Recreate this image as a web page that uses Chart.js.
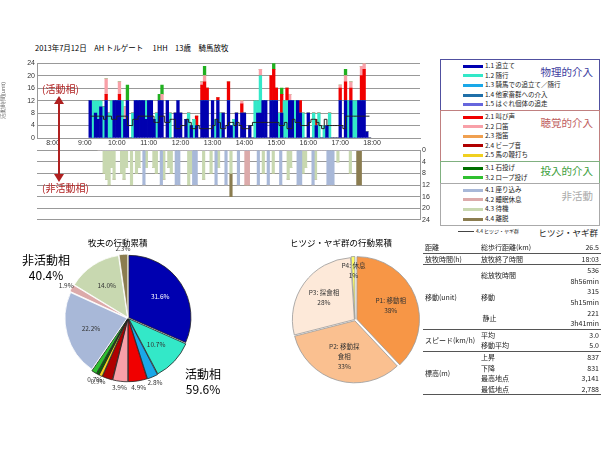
<!DOCTYPE html>
<html><head><meta charset="utf-8">
<script src="https://cdn.jsdelivr.net/npm/chart.js@4"></script>
<style>
body{margin:0;width:610px;height:458px;position:relative;background:#fff;font-family:"Noto Sans CJK JP","Noto Sans",sans-serif;overflow:hidden}
.abs{position:absolute}
canvas{position:absolute}
#legend{left:440px;top:60px;width:160px;font-size:6.5px;color:#222}
.grp{border:1px solid;position:relative;box-sizing:border-box;padding:1px 0 1px 22px}
.row{height:9.6px;line-height:9.6px;white-space:nowrap}
.sw{display:inline-block;width:20px;height:3px;vertical-align:middle;margin-right:2px}
.gt{position:absolute;right:6px;font-size:10.5px}
table{border-collapse:collapse;font-size:7px;color:#222}
td{padding:0 2px;line-height:10.6px}
.num{text-align:right}
.bt td{border-top:1px solid #555}
</style></head><body>
<div class="abs" style="left:35px;top:42px;font-size:7.5px">2013年7月12日　AH トルゲート　 1HH　13歳　騎馬放牧</div>
<canvas id="top" width="432" height="92" style="left:0;top:57px"></canvas>
<canvas id="bot" width="440" height="82" style="left:0;top:144px"></canvas>
<div class="abs" style="left:42px;top:81px;font-size:10px;color:#b02020">(活動相)</div>
<div class="abs" style="left:42px;top:180px;font-size:10px;color:#b02020">(非活動相)</div>
<svg class="abs" style="left:52px;top:96px" width="14" height="86"><line x1="7" y1="6" x2="7" y2="80" stroke="#b02020" stroke-width="2"/><polygon points="7,0 2,8 12,8" fill="#b02020"/><polygon points="7,86 2,78 12,78" fill="#b02020"/></svg>

<div id="legend" class="abs"></div>

<canvas id="pie1" width="150" height="150" style="left:53px;top:243px"></canvas>
<canvas id="pie2" width="150" height="150" style="left:280px;top:245px"></canvas>
<div class="abs" style="left:88px;top:236px;font-size:8.5px">牧夫の行動累積</div>
<div class="abs" style="left:290px;top:236px;font-size:8.5px">ヒツジ・ヤギ群の行動累積</div>
<div class="abs" style="left:22px;top:252px;font-size:12px;text-align:center;line-height:15px">非活動相<br>40.4%</div>
<div class="abs" style="left:185px;top:366px;font-size:12px;text-align:center;line-height:15px">活動相<br>59.6%</div>

<div class="abs" style="left:423px;top:242px;width:178px">
<table style="width:178px">
<tr><td style="width:52px">距離</td><td>総歩行距離(km)</td><td class="num">26.5</td></tr>
<tr class="bt"><td>放牧時間(h)</td><td>放牧終了時間</td><td class="num">18:03</td></tr>
<tr class="bt"><td rowspan="6">移動(unit)</td><td rowspan="2">総放牧時間</td><td class="num">536</td></tr>
<tr><td class="num">8h56min</td></tr>
<tr><td rowspan="2">移動</td><td class="num">315</td></tr>
<tr><td class="num">5h15min</td></tr>
<tr><td rowspan="2">&nbsp;静止</td><td class="num">221</td></tr>
<tr><td class="num">3h41min</td></tr>
<tr class="bt"><td rowspan="2">スピード(km/h)</td><td>平均</td><td class="num">3.0</td></tr>
<tr><td>移動平均</td><td class="num">5.0</td></tr>
<tr class="bt"><td rowspan="4">標高(m)</td><td>上昇</td><td class="num">837</td></tr>
<tr><td>下降</td><td class="num">831</td></tr>
<tr><td>最高地点</td><td class="num">3,141</td></tr>
<tr><td>最低地点</td><td class="num">2,788</td></tr>
<tr class="bt"><td colspan="3" style="line-height:2px">&nbsp;</td></tr>
</table></div>

<script>
// 5-minute bins from 9:10 to 17:55
const startMin = 550;
const hourLabels = ['8:00','9:00','10:00','11:00','12:00','13:00','14:00','15:00','16:00','17:00','18:00'];

const herdBlue = [12,0,8,6,10,0,12,0,0,12, 12,12,0,6,12,0,0,12,12,12,12,6, 12,12,6,0,12,12,0,12,0,0,8,12,
  8,0,6,0,4,0,4,0,12,12,12,0, 12,0,12,0,8,0,12,4,0,8,0,8, 8,0,4,0,0,8,8,12,12,0,12,12,
  12,0,8,0,0,12,12,0,12,8,0,0, 8,0,0,4,0,0,0,4,0,0,0,0, 12,0,12,0,12,0,0,12,12,12,2,0];
const herdCyan = [0,12,4,6,2,10,0,8,12,0, 0,0,12,0,0,0,8,0,0,0,0,6, 0,0,0,8,0,0,0,0,8,0,0,0,
  0,0,0,8,0,6,0,0,0,0,0,0, 0,6,0,8,0,0,0,0,6,0,0,0, 0,0,0,0,12,4,12,0,0,0,0,0,
  0,8,0,12,12,0,0,12,0,0,8,0, 0,0,8,0,8,0,4,0,8,0,0,0, 0,0,0,12,0,12,12,0,0,0,0,0];
const herdRed = [0,0,0,0,0,0,2,0,0,0, 0,2,0,0,0,0,0,0,0,0,0,0, 0,0,0,0,0,0,0,0,0,0,0,0,
  0,0,0,0,0,0,3,0,5,6,4,0, 0,0,1,0,0,0,6,0,0,0,0,3, 0,0,0,0,0,0,0,0,0,0,8,10,
  4,0,6,0,4,0,0,0,0,4,0,0, 0,0,0,2,0,0,0,0,0,0,0,0, 4,0,6,0,4,0,0,0,8,10,0,0];
const herdPink = [0,0,0,0,0,0,5,0,0,0, 0,4,0,4,0,0,0,0,0,0,0,0, 0,0,0,0,0,2,0,0,0,0,0,0,
  0,0,0,0,0,0,0,0,1,2,0,0, 0,0,0,0,0,0,0,0,0,0,0,1, 0,0,0,0,0,0,2,0,0,0,0,0,
  0,0,0,0,0,2,0,0,0,0,0,0, 0,0,0,0,0,0,0,0,0,0,0,0, 1,0,2,0,2,0,0,0,3,2,0,0];
const herdGreen = [0,0,0,0,0,0,0,0,0,0, 0,0,0,0,5,0,0,0,0,0,0,0, 0,0,0,0,2,3,0,0,0,0,0,0,
  0,0,0,0,0,0,0,0,0,3,0,0, 0,0,0,0,0,0,0,0,0,0,0,0, 0,0,0,0,0,0,0,0,0,0,0,2,
  0,0,2,0,0,0,0,0,0,0,0,0, 0,0,0,0,0,0,0,0,0,0,0,0, 0,0,2,0,0,0,0,0,0,0,0,0];
const restGather = [0,0,0,0,0,0,0,0,0,0, 0,0,0,0,0,0,0,0,12,0,0,0, 0,0,0,12,0,0,0,0,0,12,12,0,
  0,0,0,0,12,12,0,0,0,0,0,0, 0,12,0,0,0,12,0,0,0,0,12,0, 0,0,0,0,0,0,12,0,0,0,12,0,
  0,0,0,12,0,0,0,0,0,0,12,12, 0,0,0,0,12,0,0,0,0,0,12,12, 12,0,0,0,0,0,0,0,0,0,0,0];
const restBreak = [0,0,0,0,0,0,0,0,0,0, 0,0,0,0,0,0,0,0,0,0,0,0, 0,0,0,0,0,0,0,0,0,0,0,0,
  0,0,0,0,0,0,0,0,0,0,0,0, 0,0,0,0,0,0,0,0,0,0,0,0, 0,12,12,0,0,0,0,0,0,0,0,0,
  0,0,0,0,0,0,0,0,0,0,0,0, 0,0,0,0,0,0,0,0,0,0,0,0, 0,0,0,0,0,0,0,0,0,0,0,0];
const restWait = [0,0,8,10,12,6,10,0,0,8, 10,6,0,12,0,8,6,0,0,6,0,0, 6,8,0,0,10,0,6,8,0,0,0,0,
  0,0,12,8,0,0,0,0,10,0,0,8, 0,0,6,0,0,0,0,8,0,0,0,0, 0,0,0,0,0,0,0,0,8,0,0,0,
  8,0,0,0,0,0,10,6,0,0,0,0, 8,6,0,0,0,10,0,0,0,0,0,0, 0,0,4,0,0,0,0,8,0,0,0,0];
const restLeave = [0,0,0,0,0,0,0,0,0,0, 0,0,0,0,0,0,0,0,0,0,0,0, 0,0,0,0,0,0,0,0,0,0,0,0,
  0,0,0,0,0,0,0,0,0,0,0,0, 0,0,0,0,0,0,0,8,0,0,0,0, 0,0,0,0,0,0,0,0,0,0,0,0,
  0,0,0,0,0,0,0,0,0,0,0,0, 0,0,0,0,0,0,0,0,0,0,0,0, 0,0,0,0,0,0,0,0,0,0,12,12];
const flockLine = [7,7,7,7,7,6,7,7,6,6, 7,7,7,7,4,4,6,6,7,7,7,7, 7,7,5,5,7,7,5,5,6,6,3,3,
  4,4,6,5,3,3,4,3,3,3,3,3, 4,6,5,3,3,4,5,5,4,5,4,3, 3,3,4,5,5,5,5,5,5,5,5,5,
  5,4,4,5,3,3,6,5,5,4,4,4, 5,6,6,5,4,3,6,4,4,4,4,4, 4,3,7,7,7,7,7,7,7,7,7,7];

const pieLabels1 = ['1.1','1.2','1.3','2.1','2.2','2.4','2.5','3.1','3.2','4.1','4.2','4.3','4.4'];
const pieValues1 = [31.6,10.7,2.8,4.9,3.9,2.7,0.9,0.7,1.4,22.2,1.9,14.0,2.3];
const pieColors1 = ['#0000b0','#33e8c8','#1aa8e8','#f00000','#f8a0a8','#b00000','#f0d020','#007000','#30c030','#a8b8d8','#dcaaaa','#c8d8b0','#8b7d50'];
const pieLabels2 = ['P1: 移動相','P2: 移動採\n食相','P3: 採食相','P4: 休息'];
const pieValues2 = [38,33,28,1];
const pieColors2 = ['#f79646','#fac090','#fde9d9','#ffff66'];

const legendGroups = [
  {title:'物理的介入', color:'#5050a0', tc:'#4040a0', items:[['1.1 追立て','#0000b0'],['1.2 随行','#33e8c8'],['1.3 騎馬での追立て／随行','#1aa8e8'],['1.4 他家畜群への介入','#1f6fa8'],['1.5 はぐれ個体の追走','#6666dd']]},
  {title:'聴覚的介入', color:'#c08080', tc:'#c06060', items:[['2.1 叫び声','#f00000'],['2.2 口笛','#f8a0a8'],['2.3 指笛','#f0a050'],['2.4 ビープ音','#b00000'],['2.5 馬の鞭打ち','#f0d020']]},
  {title:'投入的介入', color:'#80b080', tc:'#40a040', items:[['3.1 石投げ','#007000'],['3.2 ロープ投げ','#30c030']]},
  {title:'非活動', color:'#aaa', tc:'#aaa', items:[['4.1 座り込み','#a8b8d8'],['4.2 睡眠休息','#dcaaaa'],['4.3 待機','#c8d8b0'],['4.4 離脱','#8b7d50']]}
];
let lh = '';
legendGroups.forEach(g => {
  lh += `<div class="grp" style="border-color:${g.color};margin-top:-1px"><span class="gt" style="color:${g.tc};top:${g.items.length>2?4:1}px">${g.title}</span>`;
  g.items.forEach(it => lh += `<div class="row"><span class="sw" style="background:${it[1]}"></span>${it[0]}</div>`);
  lh += '</div>';
});
lh += '<div style="position:relative;height:11px;margin-top:-1px;border-top:1px solid #aaa;padding-left:18px"><div class="row" style="font-size:5px"><span class="sw" style="background:#444;height:1px;width:16px"></span>4.4 ヒツジ・ヤギ群</div><span class="gt" style="top:0;right:2px;font-size:8.5px;color:#222">ヒツジ・ヤギ群</span></div>';
document.getElementById('legend').innerHTML = lh;

const pts = arr => arr.map((v, i) => ({x: startMin + i * 5, y: v}));
const xTicks = {stepSize: 60, font: {size: 7}, color: '#333', padding: 1, maxRotation: 0,
  callback: v => hourLabels[(v - 480) / 60] || ''};
const barOpts = (label, data, color) => ({type: 'bar', label, data: pts(data), backgroundColor: color,
  barPercentage: 1, categoryPercentage: 1, stack: 's'});

new Chart(document.getElementById('top'), {
  data: {datasets: [
    {type: 'line', label: 'flock', data: pts(flockLine), borderColor: '#222', borderWidth: 1, pointRadius: 0, stepped: true, stack: 'l', order: 0},
    barOpts('1.1', herdBlue, '#0000b0'),
    barOpts('1.2', herdCyan, '#33e8c8'),
    barOpts('2.1', herdRed, '#f00000'),
    barOpts('2.2', herdPink, '#f8a0a8'),
    barOpts('3.1', herdGreen, '#20b020')
  ]},
  options: {
    responsive: false, animation: false,
    layout: {padding: {top: 4, right: 12}},
    plugins: {legend: {display: false}, tooltip: {enabled: false}},
    scales: {
      x: {type: 'linear', min: 480, max: 1140, stacked: true,
        grid: {display: false, drawTicks: false}, border: {color: '#999', dash: [1, 1]},
        ticks: xTicks, afterFit: s => { s.height = 11; }},
      y: {min: 0, max: 24, stacked: true,
        ticks: {stepSize: 4, font: {size: 7}, color: '#333', padding: 2, autoSkip: false},
        grid: {color: '#999', drawTicks: false},
        border: {color: '#999'},
        title: {display: true, text: '活動時間(unit)', font: {size: 6}, padding: 0},
        afterFit: s => { s.width = 37; }}
    }
  }
});

new Chart(document.getElementById('bot'), {
  data: {datasets: [
    barOpts('4.1', restGather, '#a8b8d8'),
    barOpts('4.2', restBreak, '#dcaaaa'),
    barOpts('4.3', restWait, '#c8d8b0'),
    barOpts('4.4', restLeave, '#8b7d50')
  ]},
  options: {
    responsive: false, animation: false,
    layout: {padding: {top: 4, bottom: 4, left: 37}},
    plugins: {legend: {display: false}, tooltip: {enabled: false}},
    scales: {
      x: {type: 'linear', min: 480, max: 1140, stacked: true, display: false},
      y: {min: 0, max: 24, reverse: true, stacked: true, position: 'right',
        ticks: {stepSize: 4, font: {size: 7}, color: '#333', padding: 2, autoSkip: false},
        grid: {color: '#999', drawTicks: false},
        border: {color: '#999'},
        afterFit: s => { s.width = 20; }}
    }
  }
});

const pieText = (labels, fmt, fs, isLeft) => ({
  id: 'pt',
  afterDatasetsDraw(chart) {
    const ctx = chart.ctx;
    const meta = chart.getDatasetMeta(0);
    const vals = chart.data.datasets[0].data;
    ctx.save();
    ctx.font = fs + 'px "Noto Sans CJK JP", sans-serif';
    ctx.textAlign = 'center'; ctx.textBaseline = 'middle';
    meta.data.forEach((arc, i) => {
      const t = fmt(labels[i], vals[i]);
      if (!t) return;
      const a = (arc.startAngle + arc.endAngle) / 2;
      let r = arc.outerRadius * 0.62;
      if (isLeft && vals[i] < 10) r = arc.outerRadius + 8;
      if (!isLeft && vals[i] < 2) r = arc.outerRadius * 0.8;
      if (isLeft && (vals[i] === 2.7 || vals[i] === 1.4)) return;
      const x = arc.x + Math.cos(a) * r, y = arc.y + Math.sin(a) * r;
      ctx.fillStyle = isLeft && i === 0 ? '#fff' : '#333';
      t.split('\n').forEach((ln, k, all) => ctx.fillText(ln, x, y + (k - (all.length - 1) / 2) * 10));
    });
    ctx.restore();
  }
});

new Chart(document.getElementById('pie1'), {
  type: 'pie',
  data: {labels: pieLabels1, datasets: [{data: pieValues1, backgroundColor: pieColors1,
    borderColor: pieColors1.map((c, i) => i < 9 ? '#222' : '#fff'), borderWidth: 0.8, offset: 4}]},
  options: {responsive: false, animation: false, radius: 62,
    plugins: {legend: {display: false}, tooltip: {enabled: false}}},
  plugins: [pieText(pieLabels1, (l, v) => v.toFixed(1) + '%', 6.5, true)]
});

new Chart(document.getElementById('pie2'), {
  type: 'pie',
  data: {labels: pieLabels2, datasets: [{data: pieValues2, backgroundColor: pieColors2,
    borderColor: '#999', borderWidth: 0.8, offset: [8, 3, 3, 3]}]},
  options: {responsive: false, animation: false, radius: 62,
    plugins: {legend: {display: false}, tooltip: {enabled: false}}},
  plugins: [pieText(pieLabels2, (l, v) => l + '\n' + v + '%', 6.5, false)]
});
</script>
</body></html>
